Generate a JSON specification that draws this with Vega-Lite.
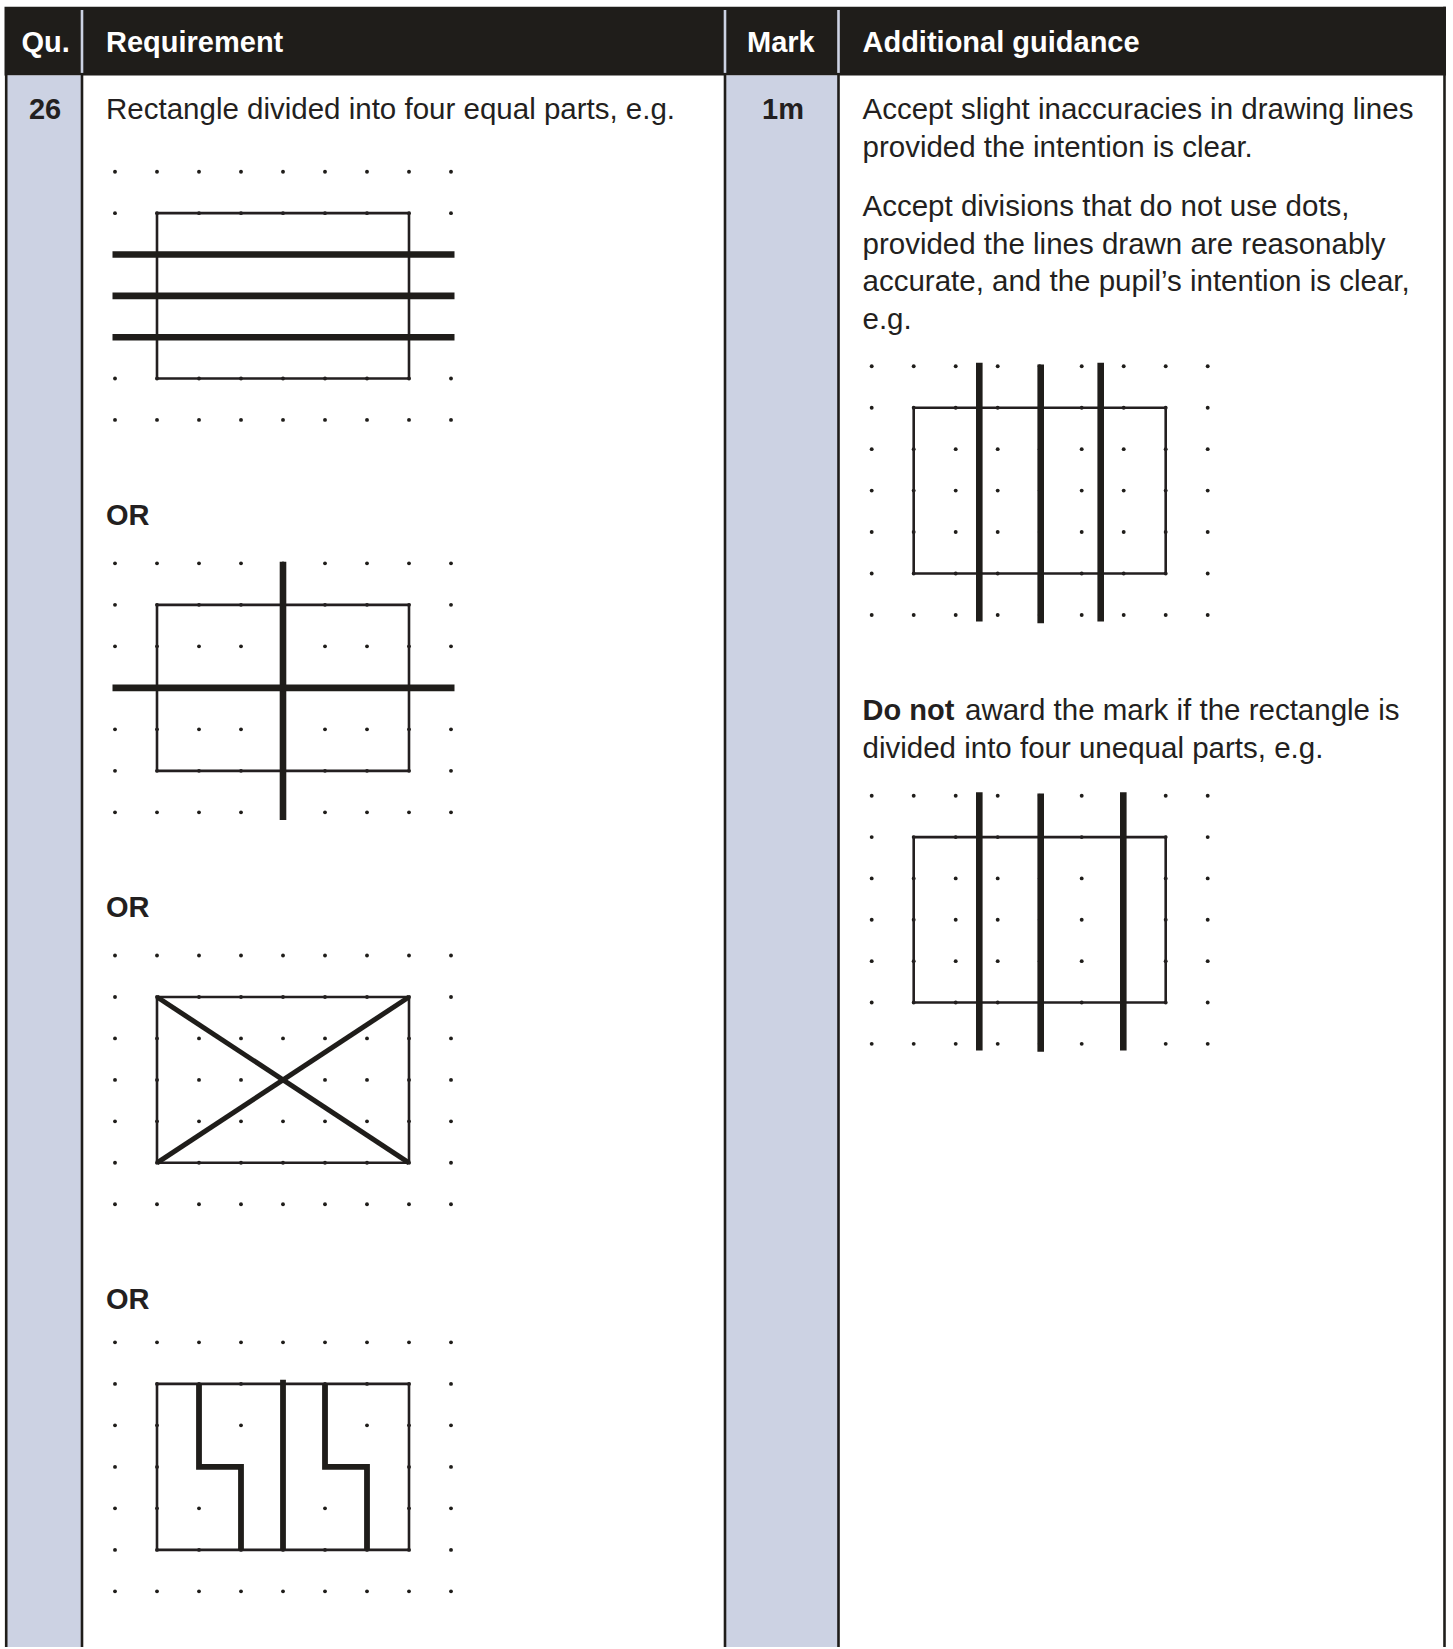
{
  "$schema": "https://vega.github.io/schema/vega-lite/v6.json",
  "autosize": {"type": "fit", "contains": "padding"},
  "width": 1453,
  "height": 1649,
  "padding": 0,
  "background": "#ffffff",
  "config": {"view": {"stroke": null}},
  "datasets": {
    "panels": [
      {"part": "header", "x": 4.5, "x2": 1446, "y": 6.8, "y2": 75.5},
      {"part": "qu", "x": 7, "x2": 82, "y": 75.5, "y2": 1649},
      {"part": "mark", "x": 725, "x2": 838.5, "y": 75.5, "y2": 1649}
    ],
    "borders": [
      {"zone": "body", "x": 6.2, "y": 75, "y2": 1649},
      {"zone": "body", "x": 82, "y": 75, "y2": 1649},
      {"zone": "body", "x": 725, "y": 75, "y2": 1649},
      {"zone": "body", "x": 838.5, "y": 75, "y2": 1649},
      {"zone": "body", "x": 1444.5, "y": 6.8, "y2": 1649},
      {"zone": "head", "x": 82, "y": 10, "y2": 73},
      {"zone": "head", "x": 725, "y": 10, "y2": 73},
      {"zone": "head", "x": 838.5, "y": 10, "y2": 73}
    ],
    "dots": [
      {"x":115,"y":172},{"x":157,"y":172},{"x":199,"y":172},{"x":241,"y":172},{"x":283,"y":172},{"x":325,"y":172},{"x":367,"y":172},{"x":409,"y":172},{"x":451,"y":172},
      {"x":115,"y":213.4},{"x":157,"y":213.4},{"x":199,"y":213.4},{"x":241,"y":213.4},{"x":283,"y":213.4},{"x":325,"y":213.4},{"x":367,"y":213.4},{"x":409,"y":213.4},{"x":451,"y":213.4},
      {"x":115,"y":254.8},{"x":157,"y":254.8},{"x":199,"y":254.8},{"x":241,"y":254.8},{"x":283,"y":254.8},{"x":325,"y":254.8},{"x":367,"y":254.8},{"x":409,"y":254.8},{"x":451,"y":254.8},
      {"x":115,"y":296.2},{"x":157,"y":296.2},{"x":199,"y":296.2},{"x":241,"y":296.2},{"x":283,"y":296.2},{"x":325,"y":296.2},{"x":367,"y":296.2},{"x":409,"y":296.2},{"x":451,"y":296.2},
      {"x":115,"y":337.6},{"x":157,"y":337.6},{"x":199,"y":337.6},{"x":241,"y":337.6},{"x":283,"y":337.6},{"x":325,"y":337.6},{"x":367,"y":337.6},{"x":409,"y":337.6},{"x":451,"y":337.6},
      {"x":115,"y":379},{"x":157,"y":379},{"x":199,"y":379},{"x":241,"y":379},{"x":283,"y":379},{"x":325,"y":379},{"x":367,"y":379},{"x":409,"y":379},{"x":451,"y":379},
      {"x":115,"y":420.4},{"x":157,"y":420.4},{"x":199,"y":420.4},{"x":241,"y":420.4},{"x":283,"y":420.4},{"x":325,"y":420.4},{"x":367,"y":420.4},{"x":409,"y":420.4},{"x":451,"y":420.4},

      {"x":115,"y":564},{"x":157,"y":564},{"x":199,"y":564},{"x":241,"y":564},{"x":283,"y":564},{"x":325,"y":564},{"x":367,"y":564},{"x":409,"y":564},{"x":451,"y":564},
      {"x":115,"y":605.6},{"x":157,"y":605.6},{"x":199,"y":605.6},{"x":241,"y":605.6},{"x":283,"y":605.6},{"x":325,"y":605.6},{"x":367,"y":605.6},{"x":409,"y":605.6},{"x":451,"y":605.6},
      {"x":115,"y":647.1},{"x":157,"y":647.1},{"x":199,"y":647.1},{"x":241,"y":647.1},{"x":283,"y":647.1},{"x":325,"y":647.1},{"x":367,"y":647.1},{"x":409,"y":647.1},{"x":451,"y":647.1},
      {"x":115,"y":688.7},{"x":157,"y":688.7},{"x":199,"y":688.7},{"x":241,"y":688.7},{"x":283,"y":688.7},{"x":325,"y":688.7},{"x":367,"y":688.7},{"x":409,"y":688.7},{"x":451,"y":688.7},
      {"x":115,"y":730.2},{"x":157,"y":730.2},{"x":199,"y":730.2},{"x":241,"y":730.2},{"x":283,"y":730.2},{"x":325,"y":730.2},{"x":367,"y":730.2},{"x":409,"y":730.2},{"x":451,"y":730.2},
      {"x":115,"y":771.8},{"x":157,"y":771.8},{"x":199,"y":771.8},{"x":241,"y":771.8},{"x":283,"y":771.8},{"x":325,"y":771.8},{"x":367,"y":771.8},{"x":409,"y":771.8},{"x":451,"y":771.8},
      {"x":115,"y":813.3},{"x":157,"y":813.3},{"x":199,"y":813.3},{"x":241,"y":813.3},{"x":283,"y":813.3},{"x":325,"y":813.3},{"x":367,"y":813.3},{"x":409,"y":813.3},{"x":451,"y":813.3},

      {"x":115,"y":956.7},{"x":157,"y":956.7},{"x":199,"y":956.7},{"x":241,"y":956.7},{"x":283,"y":956.7},{"x":325,"y":956.7},{"x":367,"y":956.7},{"x":409,"y":956.7},{"x":451,"y":956.7},
      {"x":115,"y":998.2},{"x":157,"y":998.2},{"x":199,"y":998.2},{"x":241,"y":998.2},{"x":283,"y":998.2},{"x":325,"y":998.2},{"x":367,"y":998.2},{"x":409,"y":998.2},{"x":451,"y":998.2},
      {"x":115,"y":1039.7},{"x":157,"y":1039.7},{"x":199,"y":1039.7},{"x":241,"y":1039.7},{"x":283,"y":1039.7},{"x":325,"y":1039.7},{"x":367,"y":1039.7},{"x":409,"y":1039.7},{"x":451,"y":1039.7},
      {"x":115,"y":1081.2},{"x":157,"y":1081.2},{"x":199,"y":1081.2},{"x":241,"y":1081.2},{"x":283,"y":1081.2},{"x":325,"y":1081.2},{"x":367,"y":1081.2},{"x":409,"y":1081.2},{"x":451,"y":1081.2},
      {"x":115,"y":1122.7},{"x":157,"y":1122.7},{"x":199,"y":1122.7},{"x":241,"y":1122.7},{"x":283,"y":1122.7},{"x":325,"y":1122.7},{"x":367,"y":1122.7},{"x":409,"y":1122.7},{"x":451,"y":1122.7},
      {"x":115,"y":1164.2},{"x":157,"y":1164.2},{"x":199,"y":1164.2},{"x":241,"y":1164.2},{"x":283,"y":1164.2},{"x":325,"y":1164.2},{"x":367,"y":1164.2},{"x":409,"y":1164.2},{"x":451,"y":1164.2},
      {"x":115,"y":1205.7},{"x":157,"y":1205.7},{"x":199,"y":1205.7},{"x":241,"y":1205.7},{"x":283,"y":1205.7},{"x":325,"y":1205.7},{"x":367,"y":1205.7},{"x":409,"y":1205.7},{"x":451,"y":1205.7},

      {"x":115,"y":1344},{"x":157,"y":1344},{"x":199,"y":1344},{"x":241,"y":1344},{"x":283,"y":1344},{"x":325,"y":1344},{"x":367,"y":1344},{"x":409,"y":1344},{"x":451,"y":1344},
      {"x":115,"y":1385.6},{"x":157,"y":1385.6},{"x":199,"y":1385.6},{"x":241,"y":1385.6},{"x":283,"y":1385.6},{"x":325,"y":1385.6},{"x":367,"y":1385.6},{"x":409,"y":1385.6},{"x":451,"y":1385.6},
      {"x":115,"y":1427.1},{"x":157,"y":1427.1},{"x":199,"y":1427.1},{"x":241,"y":1427.1},{"x":283,"y":1427.1},{"x":325,"y":1427.1},{"x":367,"y":1427.1},{"x":409,"y":1427.1},{"x":451,"y":1427.1},
      {"x":115,"y":1468.7},{"x":157,"y":1468.7},{"x":199,"y":1468.7},{"x":241,"y":1468.7},{"x":283,"y":1468.7},{"x":325,"y":1468.7},{"x":367,"y":1468.7},{"x":409,"y":1468.7},{"x":451,"y":1468.7},
      {"x":115,"y":1510.2},{"x":157,"y":1510.2},{"x":199,"y":1510.2},{"x":241,"y":1510.2},{"x":283,"y":1510.2},{"x":325,"y":1510.2},{"x":367,"y":1510.2},{"x":409,"y":1510.2},{"x":451,"y":1510.2},
      {"x":115,"y":1551.8},{"x":157,"y":1551.8},{"x":199,"y":1551.8},{"x":241,"y":1551.8},{"x":283,"y":1551.8},{"x":325,"y":1551.8},{"x":367,"y":1551.8},{"x":409,"y":1551.8},{"x":451,"y":1551.8},
      {"x":115,"y":1593.3},{"x":157,"y":1593.3},{"x":199,"y":1593.3},{"x":241,"y":1593.3},{"x":283,"y":1593.3},{"x":325,"y":1593.3},{"x":367,"y":1593.3},{"x":409,"y":1593.3},{"x":451,"y":1593.3},

      {"x":871.7,"y":366.7},{"x":913.7,"y":366.7},{"x":955.7,"y":366.7},{"x":997.7,"y":366.7},{"x":1039.7,"y":366.7},{"x":1081.7,"y":366.7},{"x":1123.7,"y":366.7},{"x":1165.7,"y":366.7},{"x":1207.7,"y":366.7},
      {"x":871.7,"y":408.2},{"x":913.7,"y":408.2},{"x":955.7,"y":408.2},{"x":997.7,"y":408.2},{"x":1039.7,"y":408.2},{"x":1081.7,"y":408.2},{"x":1123.7,"y":408.2},{"x":1165.7,"y":408.2},{"x":1207.7,"y":408.2},
      {"x":871.7,"y":449.7},{"x":913.7,"y":449.7},{"x":955.7,"y":449.7},{"x":997.7,"y":449.7},{"x":1039.7,"y":449.7},{"x":1081.7,"y":449.7},{"x":1123.7,"y":449.7},{"x":1165.7,"y":449.7},{"x":1207.7,"y":449.7},
      {"x":871.7,"y":491.2},{"x":913.7,"y":491.2},{"x":955.7,"y":491.2},{"x":997.7,"y":491.2},{"x":1039.7,"y":491.2},{"x":1081.7,"y":491.2},{"x":1123.7,"y":491.2},{"x":1165.7,"y":491.2},{"x":1207.7,"y":491.2},
      {"x":871.7,"y":532.7},{"x":913.7,"y":532.7},{"x":955.7,"y":532.7},{"x":997.7,"y":532.7},{"x":1039.7,"y":532.7},{"x":1081.7,"y":532.7},{"x":1123.7,"y":532.7},{"x":1165.7,"y":532.7},{"x":1207.7,"y":532.7},
      {"x":871.7,"y":574.2},{"x":913.7,"y":574.2},{"x":955.7,"y":574.2},{"x":997.7,"y":574.2},{"x":1039.7,"y":574.2},{"x":1081.7,"y":574.2},{"x":1123.7,"y":574.2},{"x":1165.7,"y":574.2},{"x":1207.7,"y":574.2},
      {"x":871.7,"y":615.7},{"x":913.7,"y":615.7},{"x":955.7,"y":615.7},{"x":997.7,"y":615.7},{"x":1039.7,"y":615.7},{"x":1081.7,"y":615.7},{"x":1123.7,"y":615.7},{"x":1165.7,"y":615.7},{"x":1207.7,"y":615.7},

      {"x":871.7,"y":796.7},{"x":913.7,"y":796.7},{"x":955.7,"y":796.7},{"x":997.7,"y":796.7},{"x":1039.7,"y":796.7},{"x":1081.7,"y":796.7},{"x":1123.7,"y":796.7},{"x":1165.7,"y":796.7},{"x":1207.7,"y":796.7},
      {"x":871.7,"y":838.1},{"x":913.7,"y":838.1},{"x":955.7,"y":838.1},{"x":997.7,"y":838.1},{"x":1039.7,"y":838.1},{"x":1081.7,"y":838.1},{"x":1123.7,"y":838.1},{"x":1165.7,"y":838.1},{"x":1207.7,"y":838.1},
      {"x":871.7,"y":879.5},{"x":913.7,"y":879.5},{"x":955.7,"y":879.5},{"x":997.7,"y":879.5},{"x":1039.7,"y":879.5},{"x":1081.7,"y":879.5},{"x":1123.7,"y":879.5},{"x":1165.7,"y":879.5},{"x":1207.7,"y":879.5},
      {"x":871.7,"y":920.9},{"x":913.7,"y":920.9},{"x":955.7,"y":920.9},{"x":997.7,"y":920.9},{"x":1039.7,"y":920.9},{"x":1081.7,"y":920.9},{"x":1123.7,"y":920.9},{"x":1165.7,"y":920.9},{"x":1207.7,"y":920.9},
      {"x":871.7,"y":962.3},{"x":913.7,"y":962.3},{"x":955.7,"y":962.3},{"x":997.7,"y":962.3},{"x":1039.7,"y":962.3},{"x":1081.7,"y":962.3},{"x":1123.7,"y":962.3},{"x":1165.7,"y":962.3},{"x":1207.7,"y":962.3},
      {"x":871.7,"y":1003.7},{"x":913.7,"y":1003.7},{"x":955.7,"y":1003.7},{"x":997.7,"y":1003.7},{"x":1039.7,"y":1003.7},{"x":1081.7,"y":1003.7},{"x":1123.7,"y":1003.7},{"x":1165.7,"y":1003.7},{"x":1207.7,"y":1003.7},
      {"x":871.7,"y":1045.1},{"x":913.7,"y":1045.1},{"x":955.7,"y":1045.1},{"x":997.7,"y":1045.1},{"x":1039.7,"y":1045.1},{"x":1081.7,"y":1045.1},{"x":1123.7,"y":1045.1},{"x":1165.7,"y":1045.1},{"x":1207.7,"y":1045.1}
    ],
    "frames": [
      {"fig": "A", "x": 157, "x2": 409, "y": 213.4, "y2": 379},
      {"fig": "B", "x": 157, "x2": 409, "y": 605.6, "y2": 771.8},
      {"fig": "C", "x": 157, "x2": 409, "y": 998.2, "y2": 1164.2},
      {"fig": "D", "x": 157, "x2": 409, "y": 1385.6, "y2": 1551.8},
      {"fig": "E", "x": 913.7, "x2": 1165.7, "y": 408.2, "y2": 574.2},
      {"fig": "F", "x": 913.7, "x2": 1165.7, "y": 838.1, "y2": 1003.7}
    ],
    "strokes": [
      {"pen": "thick", "x": 112.5, "x2": 454.5, "y": 254.8, "y2": 254.8},
      {"pen": "thick", "x": 112.5, "x2": 454.5, "y": 296.2, "y2": 296.2},
      {"pen": "thick", "x": 112.5, "x2": 454.5, "y": 337.6, "y2": 337.6},
      {"pen": "thick", "x": 283, "x2": 283, "y": 562.5, "y2": 821},
      {"pen": "thick", "x": 112.5, "x2": 454.5, "y": 688.7, "y2": 688.7},
      {"pen": "thin", "x": 157, "x2": 409, "y": 998.2, "y2": 1164.2},
      {"pen": "thin", "x": 157, "x2": 409, "y": 1164.2, "y2": 998.2},
      {"pen": "mid", "x": 283, "x2": 283, "y": 1381.5, "y2": 1551.8},
      {"pen": "thick", "x": 979.3, "x2": 979.3, "y": 363.3, "y2": 622.3},
      {"pen": "thick", "x": 1040.7, "x2": 1040.7, "y": 365, "y2": 624},
      {"pen": "thick", "x": 1100.7, "x2": 1100.7, "y": 363.3, "y2": 622.3},
      {"pen": "thick", "x": 979.3, "x2": 979.3, "y": 793.3, "y2": 1051.7},
      {"pen": "thick", "x": 1040.7, "x2": 1040.7, "y": 794.5, "y2": 1053},
      {"pen": "thick", "x": 1123.3, "x2": 1123.3, "y": 793.3, "y2": 1051.7}
    ],
    "paths": [
      {"path": "z1", "i": 0, "x": 199, "y": 1385.6},
      {"path": "z1", "i": 1, "x": 199, "y": 1468.7},
      {"path": "z1", "i": 2, "x": 241, "y": 1468.7},
      {"path": "z1", "i": 3, "x": 241, "y": 1551.8},
      {"path": "z2", "i": 0, "x": 325, "y": 1385.6},
      {"path": "z2", "i": 1, "x": 325, "y": 1468.7},
      {"path": "z2", "i": 2, "x": 367, "y": 1468.7},
      {"path": "z2", "i": 3, "x": 367, "y": 1551.8}
    ],
    "labels": [
      {"kind": "head", "t": "Qu.", "x": 21.5, "y": 43},
      {"kind": "head", "t": "Requirement", "x": 106, "y": 43},
      {"kind": "head", "t": "Mark", "x": 747, "y": 43},
      {"kind": "head", "t": "Additional guidance", "x": 862.5, "y": 43},
      {"kind": "num", "t": "26", "x": 45, "y": 110},
      {"kind": "num", "t": "1m", "x": 783, "y": 110},
      {"kind": "body", "t": "Rectangle divided into four equal parts, e.g.", "x": 106, "y": 110.5},
      {"kind": "body", "t": "Accept slight inaccuracies in drawing lines", "x": 862.5, "y": 110.5},
      {"kind": "body", "t": "provided the intention is clear.", "x": 862.5, "y": 148.2},
      {"kind": "body", "t": "Accept divisions that do not use dots,", "x": 862.5, "y": 207.2},
      {"kind": "body", "t": "provided the lines drawn are reasonably", "x": 862.5, "y": 245},
      {"kind": "body", "t": "accurate, and the pupil’s intention is clear,", "x": 862.5, "y": 282.7},
      {"kind": "body", "t": "e.g.", "x": 862.5, "y": 320.4},
      {"kind": "strong", "t": "Do not", "x": 862.5, "y": 712.3},
      {"kind": "body", "t": "award the mark if the rectangle is", "x": 965, "y": 712.3},
      {"kind": "body", "t": "divided into four unequal parts, e.g.", "x": 862.5, "y": 749.8},
      {"kind": "strong", "t": "OR", "x": 106, "y": 517},
      {"kind": "strong", "t": "OR", "x": 106, "y": 909.6},
      {"kind": "strong", "t": "OR", "x": 106, "y": 1302}
    ]
  },
  "encoding": {
    "x": {"field": "x", "type": "quantitative", "axis": null,
          "scale": {"domain": [0, 1453], "nice": false, "zero": false}},
    "y": {"field": "y", "type": "quantitative", "axis": null,
          "scale": {"domain": [0, 1649], "nice": false, "zero": false, "reverse": true}}
  },
  "layer": [
    {
      "data": {"name": "panels"},
      "mark": {"type": "rect"},
      "encoding": {
        "x2": {"field": "x2"},
        "y2": {"field": "y2"},
        "color": {"field": "part", "type": "nominal", "legend": null,
                  "scale": {"domain": ["header", "qu", "mark"], "range": ["#1f1d1a", "#ccd2e3", "#ccd2e3"]}}
      }
    },
    {
      "data": {"name": "borders"},
      "mark": {"type": "rule", "strokeWidth": 2.6},
      "encoding": {
        "y2": {"field": "y2"},
        "color": {"field": "zone", "type": "nominal", "legend": null,
                  "scale": {"domain": ["body", "head"], "range": ["#231f20", "#ffffff"]}}
      }
    },
    {
      "data": {"name": "dots"},
      "mark": {"type": "point", "filled": true, "shape": "circle", "size": 15, "opacity": 1, "color": "#1f1d1a"}
    },
    {
      "data": {"name": "frames"},
      "mark": {"type": "rect", "filled": false, "stroke": "#231f20", "strokeWidth": 2.6, "fill": null},
      "encoding": {
        "x2": {"field": "x2"},
        "y2": {"field": "y2"}
      }
    },
    {
      "data": {"name": "strokes"},
      "transform": [{"filter": "datum.pen === 'thick'"}],
      "mark": {"type": "rule", "strokeWidth": 6.6, "color": "#1f1d1a", "strokeCap": "butt"},
      "encoding": {
        "x2": {"field": "x2"},
        "y2": {"field": "y2"}
      }
    },
    {
      "data": {"name": "strokes"},
      "transform": [{"filter": "datum.pen === 'mid'"}],
      "mark": {"type": "rule", "strokeWidth": 5.8, "color": "#1f1d1a", "strokeCap": "butt"},
      "encoding": {
        "x2": {"field": "x2"},
        "y2": {"field": "y2"}
      }
    },
    {
      "data": {"name": "strokes"},
      "transform": [{"filter": "datum.pen === 'thin'"}],
      "mark": {"type": "rule", "strokeWidth": 5, "color": "#1f1d1a", "strokeCap": "butt"},
      "encoding": {
        "x2": {"field": "x2"},
        "y2": {"field": "y2"}
      }
    },
    {
      "data": {"name": "paths"},
      "mark": {"type": "line", "strokeWidth": 5.8, "color": "#1f1d1a", "strokeCap": "butt", "strokeJoin": "miter"},
      "encoding": {
        "detail": {"field": "path", "type": "nominal"},
        "order": {"field": "i", "type": "quantitative"}
      }
    },
    {
      "data": {"name": "labels"},
      "transform": [{"filter": "datum.kind === 'head'"}],
      "mark": {"type": "text", "align": "left", "baseline": "middle", "font": "Liberation Sans", "fontWeight": "bold", "fontSize": 29, "color": "#ffffff"},
      "encoding": {"text": {"field": "t"}}
    },
    {
      "data": {"name": "labels"},
      "transform": [{"filter": "datum.kind === 'num'"}],
      "mark": {"type": "text", "align": "center", "baseline": "middle", "font": "Liberation Sans", "fontWeight": "bold", "fontSize": 29, "color": "#231f20"},
      "encoding": {"text": {"field": "t"}}
    },
    {
      "data": {"name": "labels"},
      "transform": [{"filter": "datum.kind === 'strong'"}],
      "mark": {"type": "text", "align": "left", "baseline": "middle", "font": "Liberation Sans", "fontWeight": "bold", "fontSize": 29, "color": "#231f20"},
      "encoding": {"text": {"field": "t"}}
    },
    {
      "data": {"name": "labels"},
      "transform": [{"filter": "datum.kind === 'body'"}],
      "mark": {"type": "text", "align": "left", "baseline": "middle", "font": "Liberation Sans", "fontSize": 29.5, "color": "#231f20"},
      "encoding": {"text": {"field": "t"}}
    }
  ]
}
